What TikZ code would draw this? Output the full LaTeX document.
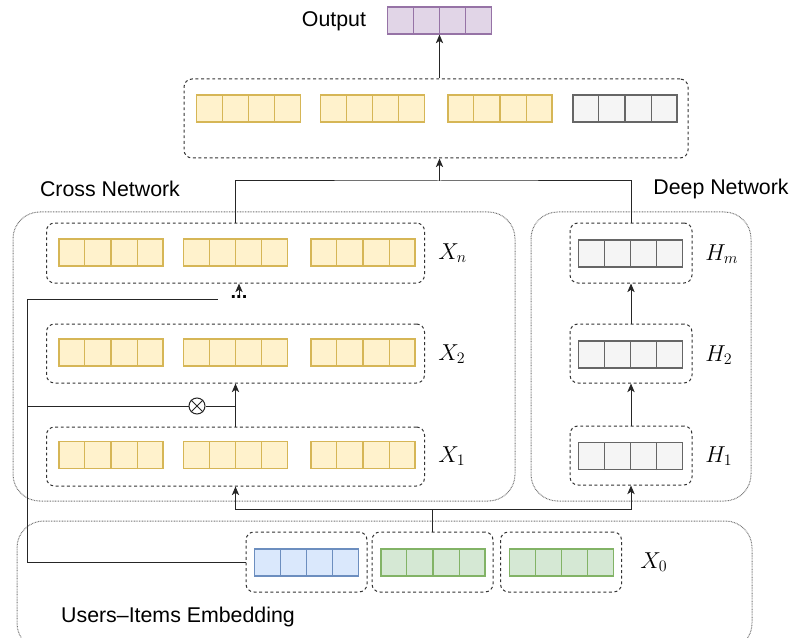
\documentclass[tikz,border=0pt]{standalone}
\usepackage{fontspec}
\setmainfont{Liberation Sans}
\usetikzlibrary{calc,arrows.meta}
\definecolor{yfill}{HTML}{FFF2CC}\definecolor{ydraw}{HTML}{D6B656}
\definecolor{gfill}{HTML}{F5F5F5}\definecolor{gdraw}{HTML}{666666}
\definecolor{pfill}{HTML}{E1D5E7}\definecolor{pdraw}{HTML}{9673A6}
\definecolor{bfill}{HTML}{DAE8FC}\definecolor{bdraw}{HTML}{6C8EBF}
\definecolor{efill}{HTML}{D5E8D4}\definecolor{edraw}{HTML}{82B366}
\newcommand{\cellbar}[5]{%
  \node[barbox, fill=#4, draw=#5] (#1) at (#2,#3) {};
  \foreach \k in {1,2,3}{\draw[line width=0.9pt, draw=#5] ($(#1.south west)!\k/4!(#1.south east)$) -- ($(#1.north west)!\k/4!(#1.north east)$);}
}
\tikzset{
  barbox/.style={rectangle, minimum width=78pt, minimum height=20.25pt, inner sep=0pt, line width=0.9pt},
  cont/.style={rectangle, draw=black!80, dash pattern=on 2.2pt off 2pt, rounded corners=6pt, line width=0.75pt, inner sep=0pt},
  outer/.style={draw=black!55, dash pattern=on 0.6pt off 0.6pt, rounded corners=20pt, line width=0.75pt},
  conn/.style={draw=black!85, line width=0.75pt},
  arr/.style={conn, -{Stealth[length=6.5pt,width=5.5pt,inset=1.8pt]}},
  title/.style={font=\fontsize{16}{18}\selectfont, inner sep=0pt},
  mlab/.style={font=\fontsize{18}{20}\selectfont, inner sep=0pt, anchor=west},
}
\begin{document}
\begin{tikzpicture}[x=0.75pt,y=-0.75pt]
\useasboundingbox (0,0) rectangle (796,638);
% outer groups
\draw[outer] (13,212) rectangle (515,501);
\draw[outer] (531,212) rectangle (751,501);
\draw[outer] (17,521) rectangle (752,650);
% titles
\node[title] (tout) at (334,21) {Output};
\node[title] (tcross) at (110,189) {Cross Network};
\node[title] (tdeep) at (721,189) {Deep Network};
\node[title] (temb) at (178,617) {Users--Items Embedding};
% output bar
\cellbar{outbar}{439.5}{20.5}{pfill}{pdraw}
% top container
\node[cont, minimum width=378pt, minimum height=59.25pt] (topbox) at (436,118.5) {};
\cellbar{t1}{248.5}{108.5}{yfill}{ydraw}
\cellbar{t2}{372.5}{108.5}{yfill}{ydraw}
\cellbar{t3}{500}{108.5}{yfill}{ydraw}
\cellbar{t4}{625}{108.5}{gfill}{gdraw}
% cross network layers
\node[cont, minimum width=283.5pt, minimum height=45pt] (xnbox) at (235.5,253) {};
\node[cont, minimum width=283.5pt, minimum height=44.25pt] (x2box) at (235.5,353.5) {};
\node[cont, minimum width=283.5pt, minimum height=44.25pt] (x1box) at (235.5,456.5) {};
\foreach \r/\yy in {xn/252.5, x2/352.5, x1/455}{
  \cellbar{\r-bar1}{111}{\yy}{yfill}{ydraw}
  \cellbar{\r-bar2}{235.5}{\yy}{yfill}{ydraw}
  \cellbar{\r-bar3}{363}{\yy}{yfill}{ydraw}
}
\node[mlab] (lxn) at (438,253) {$X_n$};
\node[mlab] (lx2) at (438,354) {$X_2$};
\node[mlab] (lx1) at (438,456) {$X_1$};
% deep network layers
\node[cont, minimum width=91.5pt, minimum height=45pt] (hmbox) at (631,253) {};
\node[cont, minimum width=91.5pt, minimum height=44.25pt] (h2box) at (631,353.5) {};
\node[cont, minimum width=91.5pt, minimum height=44.25pt] (h1box) at (631,455.5) {};
\cellbar{hm}{630.5}{253.5}{gfill}{gdraw}
\cellbar{h2}{630.5}{354.5}{gfill}{gdraw}
\cellbar{h1}{630.5}{456}{gfill}{gdraw}
\node[mlab] (lhm) at (705,254) {$H_m$};
\node[mlab] (lh2) at (705,355) {$H_2$};
\node[mlab] (lh1) at (705,456) {$H_1$};
% embedding
\node[cont, minimum width=90.75pt, minimum height=45pt] (ebox1) at (306.5,562) {};
\node[cont, minimum width=90.75pt, minimum height=45pt] (ebox2) at (432.5,562) {};
\node[cont, minimum width=90.75pt, minimum height=45pt] (ebox3) at (561,562) {};
\cellbar{eb}{306.5}{562.5}{bfill}{bdraw}
\cellbar{eg2}{433}{562.5}{efill}{edraw}
\cellbar{eg3}{561.5}{562.5}{efill}{edraw}
\node[mlab] (lx0) at (640,562) {$X_0$};
% dots and otimes
\node[inner sep=0.5pt, font=\fontsize{15}{15}\selectfont\bfseries] (dots) at (239,297) {...};
\node[circle, draw=black!85, line width=0.75pt, minimum size=12pt, inner sep=0pt] (ot) at (197,406) {};
\draw[conn] (ot.north west) -- (ot.south east);
\draw[conn] (ot.north east) -- (ot.south west);
% connectors
\draw[arr] (topbox.north -| outbar.south) -- (outbar.south);
\coordinate (j1) at (439.5,181);
\draw[conn] (xnbox.north) |- (j1) -| (hmbox.north);
\draw[arr] (j1) -- (topbox.south -| j1);
\draw[arr] (dots.north) -- (dots.north |- xnbox.south);
\coordinate (lcorner) at (27,299);
\coordinate (lend) at (218,299);
\coordinate (lb) at (27,406);
\draw[conn] (ebox1.west) -| (lcorner) -- (lend);
\draw[conn] (lb) -- (ot.west);
\draw[conn] (ot.east) -- (ot -| x1box.north);
\draw[arr] (x1box.north) -- (x2box.south);
\coordinate (jb) at (432.5,509);
\draw[conn] (ebox2.north) -- (jb);
\draw[arr] (jb) -| (x1box.south);
\draw[arr] (jb) -| (h1box.south);
\draw[arr] (h1box.north) -- (h2box.south);
\draw[arr] (h2box.north) -- (hmbox.south);
\end{tikzpicture}
\end{document}
